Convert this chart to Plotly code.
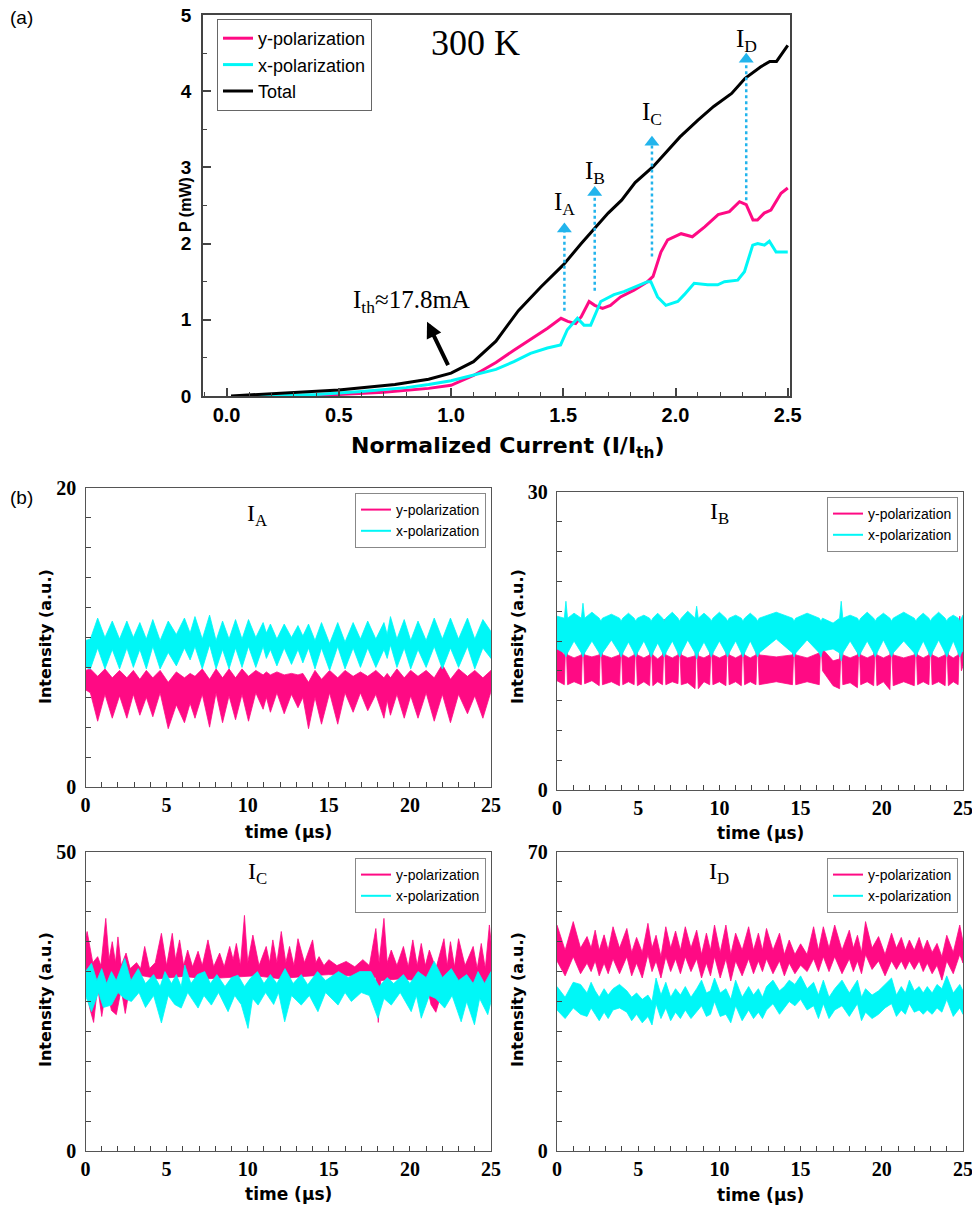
import plotly.graph_objects as go

W, H = 972, 1209
MAG = "#FF0A84"
CYN = "#00F7F7"
ARW = "#22B4EC"
SANS = "Liberation Sans"
WIDE = "DejaVu Sans"
SERIF = "Liberation Serif"

# ---------------- (a) output power vs normalized current ----------------
tot_I = [0.02, 0.25, 0.5, 0.75, 0.9, 1.0, 1.1, 1.2, 1.3, 1.4, 1.5, 1.58, 1.64, 1.7,
         1.76, 1.82, 1.9, 1.96, 2.02, 2.1, 2.17, 2.25, 2.31, 2.38, 2.42, 2.45, 2.5]
tot_P = [0.0, 0.04, 0.08, 0.15, 0.22, 0.3, 0.45, 0.72, 1.12, 1.43, 1.72, 2.0, 2.2, 2.4,
         2.57, 2.8, 3.01, 3.2, 3.4, 3.62, 3.8, 3.97, 4.17, 4.32, 4.39, 4.39, 4.6]
ypol_I = [0.1, 0.3, 0.5, 0.7, 0.9, 1.0, 1.1, 1.15, 1.2, 1.28, 1.35, 1.43, 1.49, 1.52, 1.555,
          1.58, 1.615, 1.64, 1.675, 1.71, 1.755, 1.815, 1.875, 1.9, 1.935, 1.965, 2.025,
          2.075, 2.13, 2.19, 2.24, 2.285, 2.315, 2.345, 2.365, 2.395, 2.425, 2.47, 2.5]
ypol_P = [0.0, 0.0, 0.02, 0.05, 0.1, 0.14, 0.27, 0.36, 0.44, 0.6, 0.73, 0.89, 1.02, 0.98, 0.95,
          1.04, 1.24, 1.19, 1.15, 1.19, 1.3, 1.39, 1.5, 1.57, 1.89, 2.05, 2.13,
          2.09, 2.22, 2.38, 2.42, 2.55, 2.51, 2.31, 2.31, 2.4, 2.44, 2.66, 2.73]
xpol_I = [0.1, 0.2, 0.4, 0.6, 0.8, 0.9, 1.0, 1.1, 1.2, 1.28, 1.354, 1.429, 1.488, 1.518, 1.563,
          1.592, 1.622, 1.667, 1.726, 1.77, 1.815, 1.875, 1.89, 1.92, 1.957, 2.01, 2.039,
          2.083, 2.143, 2.188, 2.218, 2.277, 2.307, 2.344, 2.366, 2.396, 2.418, 2.448, 2.5]
xpol_P = [0.0, 0.0, 0.02, 0.06, 0.11, 0.15, 0.2, 0.27, 0.35, 0.45, 0.56, 0.63, 0.67, 0.87, 1.02,
          0.93, 0.93, 1.24, 1.33, 1.37, 1.43, 1.5, 1.5, 1.3, 1.19, 1.24, 1.33,
          1.48, 1.46, 1.46, 1.5, 1.52, 1.63, 1.98, 2.0, 1.98, 2.03, 1.89, 1.89]

marker_names = ["A", "B", "C", "D"]
marker_I = [1.505, 1.64, 1.895, 2.315]
marker_from = [1.12, 1.38, 1.83, 2.57]
marker_to = [2.27, 2.75, 3.41, 4.50]
marker_label_P = [2.53, 2.93, 3.71, 4.67]

# ---------------- (b) time traces, read as upper/lower envelopes ----------------
# I_A
tA = [0.0, 0.3, 0.75, 1.2, 1.65, 2.1, 2.55, 2.95, 3.35, 3.75,
      4.15, 4.6, 5.1, 5.6, 6.1, 6.45, 6.75, 7.2, 7.65, 8.05,
      8.45, 8.85, 9.25, 9.65, 10.05, 10.5, 10.95, 11.15, 11.4, 11.8,
      12.25, 12.7, 13.1, 13.4, 13.75, 14.15, 14.55, 15.05, 15.55, 16.0,
      16.5, 16.95, 17.4, 17.9, 18.4, 18.6, 18.8, 19.2, 19.65, 20.05,
      20.5, 21.0, 21.5, 22.0, 22.5, 23.0, 23.55, 24.0, 24.5, 25.0]
xA_hi = [9.8, 9.9, 11.3, 10.0, 11.1, 9.9, 11.1, 10.0, 11.0, 9.9,
         11.2, 9.8, 11.1, 10.2, 11.3, 10.3, 11.4, 9.9, 11.5, 9.8,
         11.1, 9.9, 11.2, 9.9, 11.2, 10.0, 11.0, 10.3, 10.9, 9.9,
         10.9, 10.0, 10.8, 10.1, 10.9, 9.8, 11.0, 9.6, 11.0, 9.7,
         11.0, 9.9, 11.1, 9.9, 11.0, 10.2, 11.4, 9.9, 11.2, 9.8,
         11.1, 9.8, 11.3, 9.9, 11.3, 9.9, 11.3, 9.9, 11.2, 10.4]
xA_lo = [8.0, 7.9, 9.3, 7.9, 9.2, 7.9, 9.3, 8.0, 9.2, 7.9,
         9.4, 7.9, 9.0, 8.1, 9.3, 8.5, 9.4, 7.9, 9.5, 7.9,
         9.2, 7.9, 9.3, 8.0, 9.4, 8.0, 9.4, 8.6, 9.2, 8.1,
         9.3, 8.2, 9.2, 8.3, 9.3, 7.9, 9.3, 7.8, 9.4, 7.9,
         9.3, 8.0, 9.3, 8.0, 9.2, 8.6, 9.5, 8.0, 9.3, 7.9,
         9.2, 8.0, 9.4, 7.9, 9.3, 8.0, 9.4, 7.9, 9.3, 8.6]
yA_hi = [7.8, 7.9, 7.4, 7.9, 7.3, 7.8, 7.3, 7.8, 7.2, 7.8,
         7.3, 7.8, 7.0, 7.7, 7.3, 7.6, 7.4, 7.9, 7.2, 7.9,
         7.3, 7.9, 7.3, 7.9, 7.4, 7.8, 7.5, 7.7, 7.5, 7.7,
         7.5, 7.6, 7.5, 7.6, 7.0, 7.8, 7.2, 7.8, 7.3, 7.8,
         7.4, 7.7, 7.4, 7.8, 7.3, 7.6, 7.3, 7.9, 7.3, 7.8,
         7.4, 7.8, 7.3, 8.2, 7.2, 7.9, 7.4, 7.8, 7.3, 7.8]
yA_lo = [6.5, 6.3, 4.4, 6.2, 4.6, 6.1, 4.6, 6.2, 4.8, 6.0,
         4.7, 6.3, 3.9, 5.5, 4.3, 5.6, 4.6, 6.2, 4.0, 6.3,
         4.3, 6.1, 4.5, 6.2, 4.4, 6.3, 5.2, 6.0, 5.0, 6.3,
         4.9, 6.2, 5.3, 6.0, 3.9, 6.0, 4.2, 6.3, 4.2, 6.3,
         5.0, 6.3, 5.1, 6.2, 4.6, 5.8, 4.8, 6.2, 4.6, 6.1,
         4.6, 6.3, 4.4, 6.2, 4.3, 6.2, 4.9, 6.1, 4.6, 6.4]

# I_B
tB = [0.0, 0.45, 0.55, 0.65, 1.05, 1.5, 1.6, 1.7, 2.15, 2.6,
      2.7, 2.8, 3.35, 3.85, 3.95, 4.05, 4.4, 4.75, 4.85, 4.95,
      5.35, 5.7, 5.8, 5.9, 6.2, 6.5, 6.6, 6.7, 7.1, 7.45,
      7.55, 7.65, 8.05, 8.5, 8.6, 8.7, 9.05, 9.4, 9.5, 9.6,
      10.0, 10.4, 10.5, 10.6, 11.0, 11.35, 11.45, 11.55, 11.9, 12.25,
      12.35, 12.45, 13.5, 14.5, 14.6, 14.7, 15.4, 16.15, 16.25, 16.35,
      17.0, 17.4, 17.5, 17.6, 18.05, 18.5, 18.6, 18.7, 19.1, 19.5,
      19.6, 19.7, 20.1, 20.5, 20.6, 20.7, 21.35, 22.0, 22.1, 22.2,
      22.55, 22.9, 23.0, 23.1, 23.5, 23.9, 24.0, 24.1, 24.4, 24.7,
      24.8, 24.9, 25.0]
yB_hi = [14.5, 13.6, 17.5, 13.6, 13.3, 13.6, 17.0, 13.6, 13.4, 13.6,
         17.0, 13.6, 13.3, 13.6, 16.5, 13.6, 13.3, 13.6, 17.0, 13.6,
         13.3, 13.6, 16.5, 13.6, 13.2, 13.6, 17.2, 13.6, 13.3, 13.6,
         16.5, 13.6, 13.3, 13.5, 17.0, 13.5, 13.3, 13.6, 16.5, 13.6,
         13.3, 13.6, 17.0, 13.6, 13.3, 13.6, 17.0, 13.6, 13.3, 13.6,
         16.8, 13.6, 13.4, 13.6, 16.5, 13.6, 13.3, 13.8, 17.0, 14.2,
         13.0, 13.2, 17.0, 13.6, 13.3, 13.6, 16.8, 13.6, 13.3, 13.6,
         16.5, 13.6, 13.3, 13.6, 16.8, 13.6, 13.3, 13.6, 17.0, 13.6,
         13.3, 13.6, 16.8, 13.6, 13.3, 13.6, 16.8, 13.6, 13.3, 13.6,
         17.5, 14.0, 14.5]
yB_lo = [11.0, 10.6, 15.5, 10.6, 10.9, 10.6, 15.5, 10.7, 11.0, 10.5,
         15.5, 10.6, 10.9, 10.5, 15.0, 10.6, 10.9, 10.6, 15.0, 10.5,
         10.9, 10.5, 15.0, 10.5, 10.9, 10.6, 15.5, 10.6, 10.9, 10.7,
         15.0, 10.6, 10.8, 10.2, 15.5, 10.2, 10.9, 10.6, 15.0, 10.6,
         10.9, 10.5, 15.3, 10.6, 10.9, 10.5, 15.5, 10.6, 10.9, 10.6,
         15.3, 10.6, 10.9, 10.6, 15.0, 10.6, 10.9, 10.6, 15.3, 12.0,
         10.5, 10.2, 15.0, 10.6, 10.8, 10.3, 15.0, 10.6, 10.9, 10.5,
         15.0, 10.5, 10.9, 10.1, 15.0, 10.5, 10.9, 10.5, 15.3, 10.6,
         10.9, 10.6, 15.3, 10.6, 10.9, 10.5, 15.0, 10.5, 10.9, 10.6,
         15.5, 12.0, 12.5]
xB_hi = [17.5, 17.3, 19.0, 17.3, 17.8, 17.3, 18.8, 17.3, 17.9, 17.3,
         17.0, 17.3, 17.7, 17.3, 17.0, 17.3, 17.8, 17.3, 17.0, 17.3,
         17.6, 17.3, 17.0, 17.3, 17.8, 17.3, 17.0, 17.3, 17.9, 17.3,
         17.0, 17.3, 18.0, 17.3, 18.5, 17.3, 17.8, 17.3, 17.0, 17.3,
         17.9, 17.3, 17.0, 17.3, 17.6, 17.3, 17.0, 17.3, 17.8, 17.3,
         17.0, 17.3, 17.9, 17.3, 17.0, 17.3, 17.8, 17.3, 17.0, 17.3,
         16.8, 17.3, 19.0, 17.3, 17.6, 17.3, 17.0, 17.3, 17.9, 17.3,
         17.0, 17.3, 17.8, 17.3, 17.0, 17.3, 17.9, 17.3, 17.0, 17.3,
         17.8, 17.3, 17.0, 17.3, 17.9, 17.3, 17.0, 17.3, 17.6, 17.3,
         17.0, 17.3, 17.6]
xB_lo = [14.2, 13.8, 13.4, 13.8, 15.0, 13.8, 13.4, 13.8, 15.0, 13.8,
         13.4, 13.8, 15.1, 13.8, 13.4, 13.8, 14.9, 13.8, 13.4, 13.8,
         15.0, 13.8, 13.4, 13.8, 14.8, 13.8, 13.4, 13.8, 15.0, 13.8,
         13.4, 13.8, 15.1, 13.8, 13.2, 13.8, 14.9, 13.8, 13.4, 13.8,
         15.0, 13.8, 13.4, 13.8, 15.0, 13.8, 13.4, 13.8, 15.0, 13.8,
         13.4, 13.8, 15.2, 13.8, 13.4, 13.8, 15.1, 13.8, 13.4, 14.0,
         14.2, 13.8, 13.0, 13.8, 15.0, 13.8, 13.4, 13.8, 15.0, 13.8,
         13.4, 13.8, 15.1, 13.8, 13.4, 13.8, 15.0, 13.8, 13.4, 13.8,
         15.0, 13.8, 13.4, 13.8, 15.1, 13.8, 13.4, 13.8, 15.0, 13.8,
         13.4, 13.8, 14.0]

# I_C (separate envelopes)
yC_hi_t = [0.0, 0.1, 0.45, 0.75, 0.95, 1.25, 1.45, 1.65, 1.85, 2.0,
           2.2, 2.5, 2.75, 3.15, 3.4, 3.65, 3.95, 4.3, 4.68, 5.0,
           5.35, 5.55, 5.8, 6.05, 6.3, 6.6, 6.94, 7.2, 7.55, 7.9,
           8.27, 8.55, 8.89, 9.1, 9.3, 9.55, 9.8, 10.0, 10.32, 10.7,
           11.14, 11.35, 11.55, 11.8, 12.07, 12.35, 12.58, 12.85, 13.1, 13.5,
           14.0, 14.2, 14.4, 14.7, 15.0, 15.5, 16.07, 16.6, 17.1, 17.5,
           17.9, 18.1, 18.4, 18.6, 18.85, 19.2, 19.6, 19.9, 20.18, 20.45,
           20.7, 20.95, 21.2, 21.6, 22.1, 22.3, 22.5, 22.75, 23.0, 23.4,
           23.9, 24.15, 24.4, 24.65, 24.9, 25.0]
yC_hi = [35.5, 36.7, 31.5, 32.5, 31.0, 38.9, 32.0, 35.0, 31.5, 35.8,
         31.0, 33.1, 30.5, 31.5, 30.5, 34.2, 30.5, 31.5, 36.4, 31.0,
         36.4, 32.0, 35.3, 31.0, 33.6, 30.8, 33.4, 31.0, 35.3, 30.8,
         33.1, 30.8, 34.2, 32.0, 34.7, 31.0, 39.4, 31.5, 36.1, 31.0,
         34.2, 31.5, 35.3, 31.5, 36.7, 31.5, 34.2, 31.0, 35.5, 31.5,
         35.3, 31.5, 32.5, 31.0, 32.0, 31.0, 31.7, 30.8, 32.0, 31.0,
         37.2, 31.5, 38.9, 31.5, 33.6, 31.0, 34.2, 30.8, 35.3, 31.0,
         34.7, 31.0, 33.6, 30.5, 35.5, 31.0, 35.0, 30.8, 35.5, 31.0,
         34.2, 30.5, 34.7, 30.5, 37.8, 35.0]
yC_lo_t = [0.0, 0.25, 0.5, 0.75, 1.0, 1.3, 1.6, 1.9, 2.2, 2.45,
           2.8, 3.5, 4.5, 6.0, 7.5, 9.0, 10.5, 12.0, 13.5, 15.0,
           16.5, 17.9, 18.05, 18.2, 19.5, 21.0, 21.3, 21.6, 21.9, 22.3,
           23.4, 23.7, 24.0, 24.5, 24.8, 25.0]
yC_lo = [28.0, 24.0, 21.5, 27.5, 22.5, 27.5, 23.5, 22.8, 27.0, 23.0,
         28.5, 29.3, 28.8, 29.2, 28.8, 29.0, 29.3, 28.8, 29.2, 29.5,
         29.3, 29.0, 21.5, 28.5, 28.8, 28.3, 24.5, 23.2, 26.0, 28.0,
         27.0, 23.8, 27.5, 26.0, 24.5, 28.0]
xC_hi_t = [0.0, 0.37, 0.7, 1.0, 1.3, 1.6, 1.9, 2.42, 2.8, 3.25,
           3.7, 4.2, 4.6, 4.9, 5.3, 5.6, 5.9, 6.12, 6.5, 6.9,
           7.35, 7.7, 8.1, 8.6, 9.0, 9.4, 9.8, 10.2, 10.6, 11.0,
           11.4, 11.8, 12.3, 12.8, 13.3, 13.7, 14.3, 14.8, 15.6, 16.2,
           16.9, 17.6, 18.1, 18.6, 19.0, 19.6, 20.0, 20.5, 21.0, 21.5,
           22.0, 22.55, 23.0, 23.5, 23.9, 24.2, 24.6, 25.0]
xC_hi = [30.0, 31.4, 28.5, 30.5, 28.0, 30.0, 28.5, 32.2, 28.5, 30.5,
         28.0, 29.5, 27.5, 30.0, 28.0, 29.5, 27.5, 31.1, 28.0, 29.5,
         30.0, 28.0, 29.5, 27.5, 29.0, 29.4, 27.5, 29.0, 30.0, 28.0,
         29.5, 28.0, 30.5, 28.0, 29.5, 27.8, 30.0, 28.5, 30.0, 29.0,
         30.0, 30.0, 27.5, 29.0, 28.0, 29.5, 28.0, 30.0, 29.0, 31.7,
         29.0, 30.5, 28.5, 29.5, 28.0, 30.0, 28.0, 30.0]
xC_lo_t = [0.0, 0.37, 0.8, 1.1, 1.6, 2.0, 2.4, 2.83, 3.3, 3.7,
           4.2, 4.68, 5.1, 5.5, 5.9, 6.3, 6.94, 7.3, 7.76, 8.2,
           8.79, 9.2, 9.6, 10.02, 10.3, 10.64, 11.1, 11.6, 11.9, 12.28,
           12.7, 13.3, 13.8, 14.33, 14.8, 15.57, 16.0, 16.39, 17.0, 17.5,
           18.03, 18.4, 18.85, 19.4, 20.08, 20.4, 20.7, 21.2, 21.6, 22.14,
           22.6, 23.16, 23.5, 23.98, 24.3, 24.8, 25.0]
xC_lo = [26.0, 23.3, 26.5, 24.0, 24.4, 26.5, 25.5, 25.0, 26.5, 24.0,
         26.0, 21.4, 26.0, 24.5, 23.9, 26.5, 23.9, 26.0, 24.4, 26.5,
         23.3, 26.0, 24.5, 20.5, 25.5, 24.4, 26.5, 24.5, 26.5, 21.6,
         26.0, 24.4, 26.0, 23.3, 26.5, 24.4, 26.5, 25.0, 26.5, 26.0,
         22.2, 25.5, 24.4, 26.5, 23.3, 26.0, 22.2, 26.0, 25.5, 23.9,
         26.0, 21.6, 25.0, 21.1, 25.5, 22.8, 25.0]

# I_D
tD = [0.0, 0.5, 1.0, 1.45, 1.85, 2.1, 2.35, 2.6, 2.9, 3.15,
      3.45, 3.85, 4.3, 4.6, 4.9, 5.25, 5.6, 5.85, 6.1, 6.4,
      6.7, 7.0, 7.3, 7.6, 7.9, 8.25, 8.6, 8.9, 9.2, 9.45,
      9.7, 10.05, 10.4, 10.7, 11.0, 11.4, 11.8, 12.1, 12.4, 12.65,
      12.9, 13.3, 13.7, 14.0, 14.3, 14.65, 15.0, 15.4, 15.8, 16.1,
      16.4, 16.75, 17.1, 17.55, 18.0, 18.25, 18.5, 18.75, 19.0, 19.4,
      19.8, 20.2, 20.6, 20.9, 21.2, 21.45, 21.7, 22.0, 22.3, 22.55,
      22.8, 23.1, 23.4, 23.7, 24.0, 24.4, 24.8, 25.0]
yD_hi = [52.9, 47.0, 53.7, 47.5, 50.2, 47.5, 51.7, 47.0, 50.6, 47.0,
         52.5, 47.5, 52.1, 46.5, 50.0, 46.5, 53.3, 47.5, 50.5, 45.5,
         52.5, 47.5, 51.5, 47.0, 52.5, 47.5, 51.7, 46.0, 51.0, 47.0,
         52.9, 46.5, 52.9, 46.0, 51.0, 47.0, 52.5, 47.0, 51.0, 47.0,
         52.1, 47.0, 51.0, 46.0, 49.4, 46.0, 48.5, 46.0, 52.5, 47.0,
         52.5, 47.5, 52.9, 47.0, 51.7, 47.5, 50.5, 46.5, 53.7, 47.5,
         50.2, 46.0, 51.0, 47.5, 50.0, 47.0, 49.4, 47.0, 50.0, 47.0,
         49.4, 46.5, 48.6, 45.5, 50.5, 46.5, 52.9, 49.0]
yD_lo = [44.5, 41.0, 45.5, 41.5, 44.0, 42.0, 44.5, 41.0, 44.0, 41.5,
         45.0, 41.5, 45.5, 41.0, 44.0, 40.5, 46.0, 42.0, 44.5, 40.5,
         45.5, 42.0, 45.0, 41.5, 45.5, 42.0, 45.0, 40.5, 44.0, 41.0,
         45.5, 40.5, 45.0, 39.8, 44.5, 41.0, 45.0, 41.5, 44.5, 42.0,
         45.0, 41.5, 44.5, 41.0, 44.0, 41.5, 43.5, 42.0, 45.0, 42.0,
         45.5, 42.0, 45.5, 41.5, 45.0, 42.0, 44.5, 41.5, 46.0, 42.5,
         44.5, 41.0, 44.5, 42.5, 44.5, 42.5, 44.5, 42.5, 44.5, 42.0,
         44.0, 41.5, 43.5, 40.0, 44.5, 41.5, 46.0, 44.0]
xD_hi = [38.5, 36.0, 39.5, 39.0, 37.0, 39.5, 37.5, 36.0, 38.0, 36.5,
         38.0, 39.0, 37.5, 36.0, 37.0, 35.5, 36.5, 35.0, 40.5, 36.5,
         39.5, 36.0, 38.0, 36.5, 38.5, 36.0, 38.0, 40.0, 37.0, 37.5,
         40.5, 37.0, 38.0, 35.5, 40.0, 36.0, 38.5, 36.5, 38.0, 36.0,
         38.5, 40.0, 37.5, 38.5, 40.0, 39.0, 41.0, 38.0, 39.5, 36.5,
         40.0, 36.0, 38.0, 40.0, 37.0, 38.5, 40.0, 36.0, 38.0, 36.5,
         37.5, 39.0, 40.5, 36.5, 38.5, 37.0, 40.0, 37.5, 38.5, 37.0,
         38.5, 37.0, 39.0, 38.0, 41.0, 37.0, 39.0, 37.5]
xD_lo = [33.0, 31.0, 33.5, 32.0, 31.5, 33.5, 32.0, 30.5, 32.5, 31.0,
         33.0, 33.5, 32.5, 30.5, 32.0, 30.0, 31.5, 29.5, 34.5, 31.0,
         33.5, 30.5, 32.5, 31.0, 33.0, 31.0, 32.5, 34.0, 31.5, 32.0,
         35.0, 31.5, 32.0, 30.0, 34.0, 30.5, 33.0, 31.0, 32.5, 31.0,
         33.0, 34.5, 32.0, 33.5, 35.0, 34.0, 35.5, 33.0, 34.0, 31.0,
         34.5, 31.0, 33.0, 34.0, 31.5, 33.0, 34.5, 30.5, 32.5, 31.0,
         32.0, 33.5, 34.5, 31.5, 33.0, 32.0, 34.5, 32.5, 33.0, 32.0,
         33.0, 32.0, 33.5, 32.5, 35.5, 31.5, 33.5, 32.0]

panel_names = ["A", "B", "C", "D"]
panel_ymax = [20, 30, 50, 70]
panel_title_t = [10.6, 10.0, 10.6, 10.0]
panel_title_y = [18.2, 27.9, 46.5, 65.1]

# ---------------- layout geometry (pixels) ----------------
def fx(p):
    return p / W


def fy(p):
    return 1 - p / H


top_dom_x = [fx(203), fx(790)]
top_dom_y = [fy(396), fy(15)]
pan_dom_x = [[fx(85.5), fx(491)], [fx(557), fx(963)], [fx(85.5), fx(491)], [fx(557), fx(963)]]
pan_dom_y = [[fy(787), fy(488)], [fy(790), fy(492)], [fy(1151), fy(852)], [fy(1151), fy(852)]]
legend_pos = [(355, 493), (827, 497), (355, 858), (827, 858)]

fig = go.Figure()

# ---- top panel traces
fig.add_trace(go.Scatter(x=ypol_I, y=ypol_P, mode="lines", name="y-polarization",
                         line=dict(color=MAG, width=3), xaxis="x", yaxis="y", legend="legend"))
fig.add_trace(go.Scatter(x=xpol_I, y=xpol_P, mode="lines", name="x-polarization",
                         line=dict(color=CYN, width=3), xaxis="x", yaxis="y", legend="legend"))
fig.add_trace(go.Scatter(x=tot_I, y=tot_P, mode="lines", name="Total",
                         line=dict(color="black", width=3), xaxis="x", yaxis="y", legend="legend"))

for i in range(4):
    fig.add_trace(go.Scatter(x=[marker_I[i], marker_I[i]], y=[marker_from[i], marker_to[i] - 0.12],
                             mode="lines", line=dict(color=ARW, width=2.5, dash="dot"),
                             showlegend=False, xaxis="x", yaxis="y", hoverinfo="skip"))
    fig.add_trace(go.Scatter(x=[marker_I[i]], y=[marker_to[i] - 0.08], mode="markers",
                             marker=dict(symbol="triangle-up", size=13, color=ARW),
                             showlegend=False, xaxis="x", yaxis="y", hoverinfo="skip"))


# ---- bottom panels
def band(t_hi, hi, t_lo, lo):
    return list(t_hi) + list(t_lo)[::-1], list(hi) + list(lo)[::-1]


panel_data = [
    ((tA, yA_hi, tA, yA_lo), (tA, xA_hi, tA, xA_lo)),
    ((tB, yB_hi, tB, yB_lo), (tB, xB_hi, tB, xB_lo)),
    ((yC_hi_t, yC_hi, yC_lo_t, yC_lo), (xC_hi_t, xC_hi, xC_lo_t, xC_lo)),
    ((tD, yD_hi, tD, yD_lo), (tD, xD_hi, tD, xD_lo)),
]

for k in range(4):
    ax = "x%d" % (k + 2)
    ay = "y%d" % (k + 2)
    lg = "legend%d" % (k + 2)
    for series, col in zip(panel_data[k], [MAG, CYN]):
        bx, by = band(*series)
        fig.add_trace(go.Scatter(x=bx, y=by, mode="lines", fill="toself", fillcolor=col,
                                 line=dict(color=col, width=0.8), showlegend=False,
                                 xaxis=ax, yaxis=ay, hoverinfo="skip"))
    fig.add_trace(go.Scatter(x=[None], y=[None], mode="lines", name="y-polarization",
                             line=dict(color=MAG, width=2), xaxis=ax, yaxis=ay, legend=lg))
    fig.add_trace(go.Scatter(x=[None], y=[None], mode="lines", name="x-polarization",
                             line=dict(color=CYN, width=2), xaxis=ax, yaxis=ay, legend=lg))

# ---- axes
AXC = "#444444"
layout = dict(
    width=W, height=H, margin=dict(l=0, r=0, t=0, b=0, autoexpand=False),
    plot_bgcolor="white", paper_bgcolor="white", showlegend=True,
    xaxis=dict(domain=top_dom_x, range=[-0.105, 2.51], anchor="y", tick0=0, dtick=0.5,
               automargin=False,
               tickformat=".1f", ticks="inside", ticklen=8, tickwidth=1.5, tickcolor=AXC,
               minor=dict(dtick=0.1, tick0=0, ticks="inside", ticklen=4, tickwidth=1.2, tickcolor=AXC),
               showline=True, mirror=True, linecolor=AXC, linewidth=1.5, showgrid=False,
               zeroline=False, tickfont=dict(family=SANS, size=20, weight="bold", color="black")),
    yaxis=dict(domain=top_dom_y, range=[0, 5], anchor="x", tick0=0, dtick=1,
               automargin=False,
               ticks="inside", ticklen=8, tickwidth=1.5, tickcolor=AXC,
               minor=dict(dtick=0.5, tick0=0, ticks="inside", ticklen=4, tickwidth=1.2, tickcolor=AXC),
               showline=True, mirror=True, linecolor=AXC, linewidth=1.5, showgrid=False,
               zeroline=False, ticklabelstandoff=6,
               tickfont=dict(family=SANS, size=19, weight="bold", color="black")),
    legend=dict(x=fx(217), y=fy(19), xanchor="left", yanchor="top", bgcolor="white",
                bordercolor="#666", borderwidth=1, tracegroupgap=0,
                font=dict(family=SANS, size=18, color="black")),
)

for k in range(4):
    ymax = panel_ymax[k]
    step = ymax // 10
    layout["xaxis%d" % (k + 2)] = dict(
        domain=pan_dom_x[k], range=[0, 25], anchor="y%d" % (k + 2), tickmode="array",
        automargin=False, ticklabeloverflow="allow",
        tickvals=[0, 5, 10, 15, 20, 25], ticks="inside", ticklen=5, tickwidth=1.2, tickcolor=AXC,
        minor=dict(tickmode="linear", tick0=0, dtick=1, ticks="inside", ticklen=5,
                   tickwidth=1.2, tickcolor=AXC),
        showline=True, mirror=True, linecolor="#555", linewidth=1.4, showgrid=False,
        zeroline=False, tickfont=dict(family=SERIF, size=20, weight="bold", color="black"))
    layout["yaxis%d" % (k + 2)] = dict(
        domain=pan_dom_y[k], range=[0, ymax], anchor="x%d" % (k + 2), tickmode="array",
        automargin=False, ticklabeloverflow="allow",
        tickvals=[0, ymax], ticks="inside", ticklen=5, tickwidth=1.2, tickcolor=AXC,
        minor=dict(tickmode="linear", tick0=0, dtick=step, ticks="inside", ticklen=5,
                   tickwidth=1.2, tickcolor=AXC),
        showline=True, mirror=True, linecolor="#555", linewidth=1.4, showgrid=False,
        zeroline=False, ticklabelstandoff=4,
        tickfont=dict(family=SERIF, size=20, weight="bold", color="black"))
    lx, ly = legend_pos[k]
    layout["legend%d" % (k + 2)] = dict(
        x=fx(lx), y=fy(ly), xanchor="left", yanchor="top", bgcolor="white",
        bordercolor="#888", borderwidth=1, tracegroupgap=0,
        font=dict(family=SANS, size=14, color="black"))

fig.update_layout(**layout)


# ---- annotations
def pann(text, px_, py_, size, family=SANS, angle=0, xanchor="center"):
    return dict(text=text, x=fx(px_), y=fy(py_), xref="paper", yref="paper", showarrow=False,
                xanchor=xanchor, yanchor="middle", textangle=angle,
                font=dict(family=family, size=size, color="black"))


ann = []
ann.append(pann("(a)", 8, 17, 19, xanchor="left"))
ann.append(pann("(b)", 8, 497, 19, xanchor="left"))
ann.append(dict(text="300 K", x=1.108, y=4.63, xref="x", yref="y", showarrow=False,
                xanchor="center", yanchor="middle",
                font=dict(family=SERIF, size=36, color="black")))
ann.append(dict(text="I<sub>th</sub>≈17.8mA", x=0.823, y=1.24, xref="x", yref="y", showarrow=False,
                xanchor="center", yanchor="middle",
                font=dict(family=SERIF, size=25, color="black")))
ann.append(dict(text="", x=0.893, y=0.975, ax=0.99, ay=0.385, xref="x", yref="y", axref="x",
                ayref="y", showarrow=True, arrowhead=2, arrowsize=0.8, arrowwidth=4,
                arrowcolor="black"))
for i in range(4):
    ann.append(dict(text="I<sub>%s</sub>" % marker_names[i], x=marker_I[i], y=marker_label_P[i],
                    xref="x", yref="y", showarrow=False, xanchor="center", yanchor="middle",
                    font=dict(family=SERIF, size=25, color="black")))
ann.append(pann("<b>Normalized Current (I/I<sub>th</sub>)</b>", 507, 448, 22, family=WIDE))
ann.append(pann("<b>P (mW)</b>", 186, 205, 16, angle=-90))

ytitle_pos = [(45, 637), (517, 637), (45, 1000), (517, 1000)]
xtitle_pos = [(288, 832), (760, 833), (288, 1194), (760, 1195)]
for k in range(4):
    ann.append(dict(text="I<sub>%s</sub>" % panel_names[k], x=panel_title_t[k], y=panel_title_y[k],
                    xref="x%d" % (k + 2), yref="y%d" % (k + 2), showarrow=False,
                    xanchor="center", yanchor="middle",
                    font=dict(family=SERIF, size=24, color="black")))
    px_, py_ = ytitle_pos[k]
    ann.append(pann("<b>Intensity (a.u.)</b>", px_, py_, 16, family=WIDE, angle=-90))
    px_, py_ = xtitle_pos[k]
    ann.append(pann("<b>time (μs)</b>", px_, py_, 17, family=WIDE))

fig.update_layout(annotations=ann)
fig.write_html("out.html", post_script="document.body.style.margin='0px';",
               config={"displayModeBar": False})
